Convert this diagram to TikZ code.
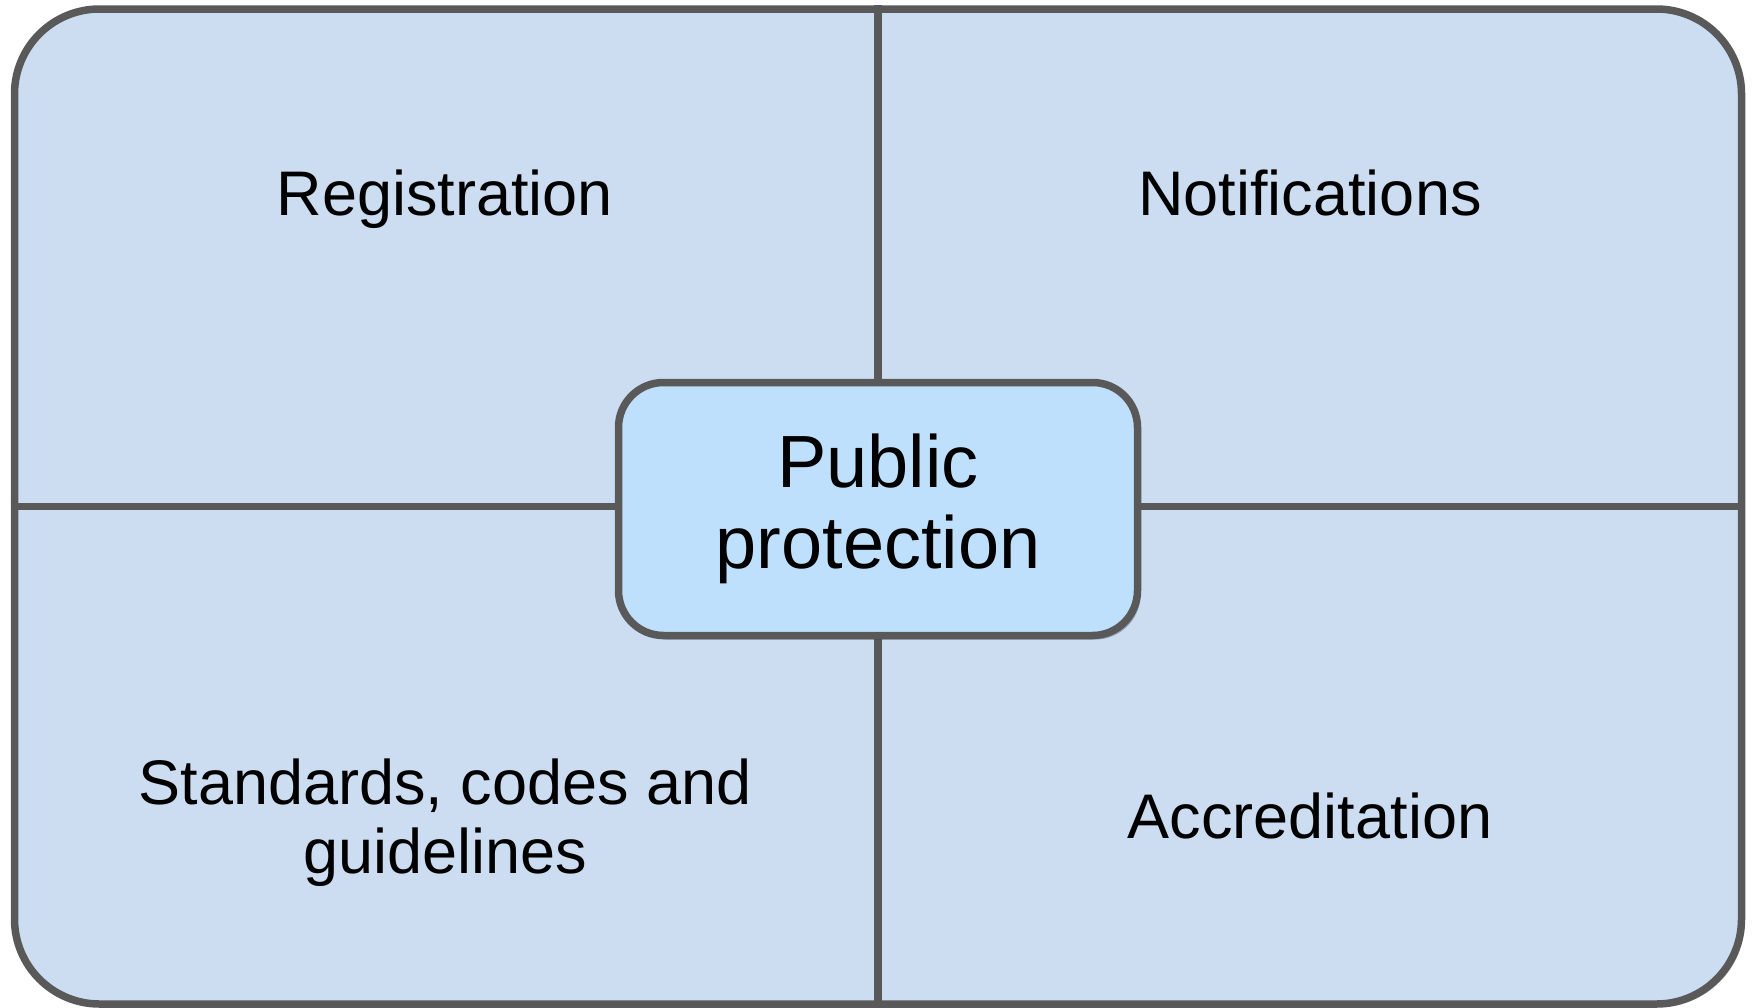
\documentclass[tikz,border=0pt]{standalone}
\usepackage{fontspec}
\setmainfont{Liberation Sans}
\usetikzlibrary{shadows}
\definecolor{panelfill}{RGB}{204,221,242}
\definecolor{hubfill}{RGB}{190,224,252}
\definecolor{edgegray}{RGB}{89,89,89}
\tikzset{
  panel/.style={draw=edgegray, line width=7.5pt, fill=panelfill, rounded corners=85pt,
    minimum width=1727pt, minimum height=995pt, inner sep=0pt,
    drop shadow={shadow xshift=3pt, shadow yshift=-3pt, opacity=0.25, fill=black}},
  hub/.style={draw=edgegray, line width=7.5pt, fill=hubfill, rounded corners=45pt,
    minimum width=519pt, minimum height=253pt, inner sep=0pt, align=center,
    font=\fontsize{74}{81}\selectfont,
    drop shadow={shadow xshift=3pt, shadow yshift=-4pt, opacity=0.25, fill=black}},
  divider/.style={draw=edgegray, line width=7.5pt},
  label/.style={inner sep=0pt, align=center, font=\fontsize{63}{69}\selectfont, text=black}
}
\begin{document}
\begin{tikzpicture}[x=1pt, y=-1pt]
\useasboundingbox (0,0) rectangle (1755,1007);
\node[panel] (outer) at (878,506.5) {};
\draw[divider] (outer.north) -- (outer.south);
\draw[divider] (outer.west) -- (outer.east);
\node[hub] (hubbox) at (878,509) {Public\\protection};
\node[label, anchor=base] (reg) at (445,215) {Registration};
\node[label, anchor=base] (notif) at (1310,215) {Notifications};
\node[label, anchor=base] (accr) at (1310,838) {Accreditation};
\node[label] (stds) at (445,823) {Standards, codes and\\guidelines};
\end{tikzpicture}
\end{document}
